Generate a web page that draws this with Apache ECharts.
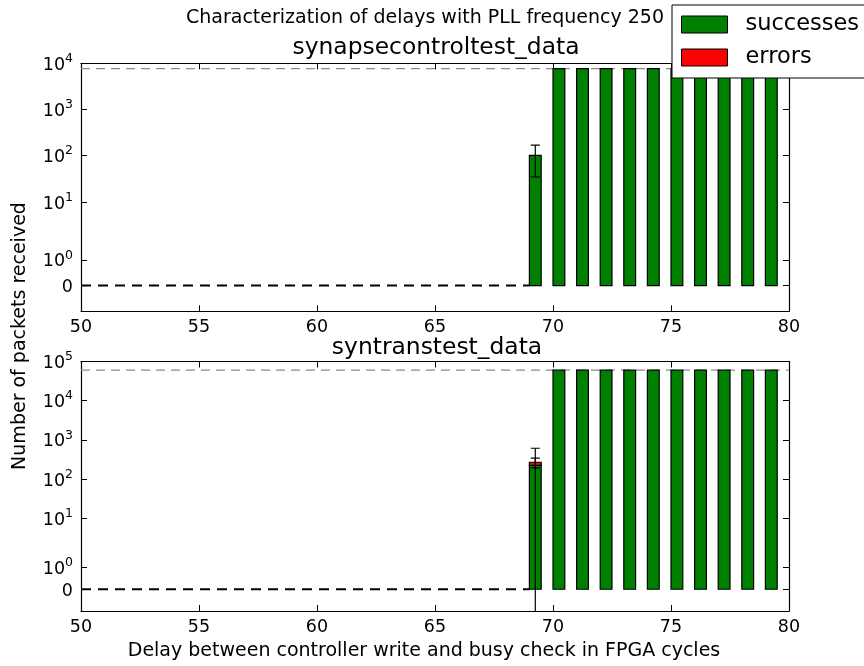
<!DOCTYPE html>
<html>
<head>
<meta charset="utf-8">
<title>Characterization of delays with PLL frequency 250</title>
<script src="https://cdn.jsdelivr.net/npm/echarts@6/dist/echarts.min.js"></script>
<style>
  html, body { margin: 0; padding: 0; background: #fff; }
  #chart { width: 864px; height: 666px; }
</style>
</head>
<body>
<div id="chart"></div>
<script>
// Delay settings (FPGA cycles) that received packets
const delays = [69, 70, 71, 72, 73, 74, 75, 76, 77, 78, 79];

// synapsecontroltest_data
const synapseSuccesses   = [102, 7700, 7700, 7700, 7700, 7700, 7700, 7700, 7700, 7700, 7700];
const synapseSuccessErr  = [67, 0, 0, 0, 0, 0, 0, 0, 0, 0, 0];
const synapseErrors      = [0, 0, 0, 0, 0, 0, 0, 0, 0, 0, 0];
const synapseErrorErr    = [0, 0, 0, 0, 0, 0, 0, 0, 0, 0, 0];
const synapseExpected    = 7700;

// syntranstest_data
const syntransSuccesses  = [225, 60000, 60000, 60000, 60000, 60000, 60000, 60000, 60000, 60000, 60000];
const syntransSuccessErr = [387, 0, 0, 0, 0, 0, 0, 0, 0, 0, 0];
const syntransErrors     = [44, 0, 0, 0, 0, 0, 0, 0, 0, 0, 0];
const syntransErrorErr   = [75, 0, 0, 0, 0, 0, 0, 0, 0, 0, 0];
const syntransExpected   = 60000;

// Delays with no packets at all (drawn as a dashed line at zero)
const zeroLineX = [50, 69];

// Axis ranges and tick values
const xRange = [50, 80];
const xTickStep = 5;
const synapseYRange  = [-1, 10000];
const syntransYRange = [-1, 100000];
const synapseYTicks  = [0, 1, 10, 100, 1000, 10000];
const syntransYTicks = [0, 1, 10, 100, 1000, 10000, 100000];

const BAR_WIDTH = 0.5;

// Symmetric log transform (linthresh 2, linscale 1, base 10)
const LINTHRESH = 2;
const LINSCALE_ADJ = 1 / (1 - 1 / 10);
function symlog(v) {
  const a = Math.abs(v);
  if (a <= LINTHRESH) return v * LINSCALE_ADJ;
  return Math.sign(v) * LINTHRESH * (LINSCALE_ADJ + Math.log10(a / LINTHRESH));
}

const FONT = 'DejaVu Sans';
const TICK_FONT = 17.5;
const LABEL_FONT = 19;

function tickLabel(v) {
  if (v === 0) return '{b|0}';
  const e = Math.round(Math.log10(v));
  return '{b|10}{s|' + e + '}';
}

function yAxisPair(gridIndex, range, ticks) {
  const tv = ticks.map(symlog);
  const common = {
    type: 'value',
    gridIndex: gridIndex,
    min: symlog(range[0]),
    max: symlog(range[1]),
    splitLine: { show: false },
    axisLine: { show: true, onZero: false, lineStyle: { color: '#000', width: 1.2 } },
    axisTick: { show: true, inside: true, length: 6, customValues: tv, lineStyle: { color: '#000', width: 1 } }
  };
  return [
    Object.assign({}, common, {
      position: 'left',
      axisLabel: {
        show: true,
        customValues: tv,
        margin: 8,
        color: '#000',
        formatter: function (val) {
          let best = 0, bestD = Infinity;
          tv.forEach(function (t, i) { const d = Math.abs(t - val); if (d < bestD) { bestD = d; best = i; } });
          return tickLabel(ticks[best]);
        },
        rich: {
          b: { fontFamily: FONT, fontSize: TICK_FONT, color: '#000', lineHeight: 22, verticalAlign: 'bottom' },
          s: { fontFamily: FONT, fontSize: 12.5, color: '#000', lineHeight: 13, verticalAlign: 'top' }
        }
      }
    }),
    Object.assign({}, common, { position: 'right', axisLabel: { show: false } })
  ];
}

function xAxisPair(gridIndex) {
  const common = {
    type: 'value',
    gridIndex: gridIndex,
    min: xRange[0],
    max: xRange[1],
    interval: xTickStep,
    splitLine: { show: false },
    axisLine: { show: true, onZero: false, lineStyle: { color: '#000', width: 1.2 } },
    axisTick: { show: true, inside: true, length: 6, lineStyle: { color: '#000', width: 1 } }
  };
  return [
    Object.assign({}, common, {
      position: 'bottom',
      axisLabel: { show: true, margin: 7, fontFamily: FONT, fontSize: TICK_FONT, color: '#000' }
    }),
    Object.assign({}, common, { position: 'top', axisLabel: { show: false } })
  ];
}

// Stacked bar segments [x, bottom, top] in transformed units
function barSegments(successes, errors, which) {
  return delays.map(function (d, i) {
    const s = successes[i], e = errors[i];
    if (which === 'successes') return [d, symlog(0), symlog(s)];
    return [d, symlog(s), symlog(s + e)];
  }).filter(function (p) { return p[2] > p[1]; });
}

// Error bars [xCenter, low, high]
function errorSegments(values, errs, bottoms) {
  const out = [];
  delays.forEach(function (d, i) {
    if (!errs[i]) return;
    const base = bottoms ? bottoms[i] : 0;
    const c = base + values[i];
    out.push([d + BAR_WIDTH / 2, symlog(c - errs[i]), symlog(c + errs[i])]);
  });
  return out;
}

function renderBar(params, api) {
  const x = api.value(0), y0 = api.value(1), y1 = api.value(2);
  const p0 = api.coord([x, y0]);
  const p1 = api.coord([x + BAR_WIDTH, y1]);
  return {
    type: 'rect',
    shape: { x: p0[0], y: p1[1], width: p1[0] - p0[0], height: p0[1] - p1[1] },
    style: { fill: api.visual('color'), stroke: '#000', lineWidth: 1.2 }
  };
}

function renderErr(params, api) {
  const x = api.value(0);
  const lo = api.coord([x, api.value(1)]);
  const hi = api.coord([x, api.value(2)]);
  const cap = 4.5;
  const st = { stroke: '#000', lineWidth: 1.2 };
  return {
    type: 'group',
    children: [
      { type: 'line', shape: { x1: lo[0], y1: lo[1], x2: hi[0], y2: hi[1] }, style: st },
      { type: 'line', shape: { x1: hi[0] - cap, y1: hi[1], x2: hi[0] + cap, y2: hi[1] }, style: st },
      { type: 'line', shape: { x1: lo[0] - cap, y1: lo[1], x2: lo[0] + cap, y2: lo[1] }, style: st }
    ]
  };
}

function panelSeries(k, successes, sErr, errors, eErr, expected) {
  const xi = k * 2, yi = k * 2;
  return [
    {
      type: 'line', name: 'no packets', xAxisIndex: xi, yAxisIndex: yi,
      data: zeroLineX.map(function (x) { return [x, symlog(0)]; }),
      symbol: 'none', silent: true, z: 1,
      lineStyle: { color: '#000', width: 2, type: [10, 7] }
    },
    {
      type: 'line', name: 'expected', xAxisIndex: xi, yAxisIndex: yi,
      data: xRange.map(function (x) { return [x, symlog(expected)]; }),
      symbol: 'none', silent: true, z: 1,
      lineStyle: { color: '#8c8c8c', width: 1.3, type: [9, 6] }
    },
    {
      type: 'custom', name: 'successes', xAxisIndex: xi, yAxisIndex: yi,
      renderItem: renderBar, clip: true, z: 3,
      itemStyle: { color: '#008000' },
      encode: { x: 0, y: [1, 2] },
      data: barSegments(successes, errors, 'successes')
    },
    {
      type: 'custom', name: 'errors', xAxisIndex: xi, yAxisIndex: yi,
      renderItem: renderBar, clip: true, z: 3,
      itemStyle: { color: '#ff0000' },
      encode: { x: 0, y: [1, 2] },
      data: barSegments(successes, errors, 'errors')
    },
    {
      type: 'custom', name: 'successes error', xAxisIndex: xi, yAxisIndex: yi,
      renderItem: renderErr, clip: true, z: 4, silent: true,
      encode: { x: 0, y: [1, 2] },
      data: errorSegments(successes, sErr, null)
    },
    {
      type: 'custom', name: 'errors error', xAxisIndex: xi, yAxisIndex: yi,
      renderItem: renderErr, clip: true, z: 4, silent: true,
      encode: { x: 0, y: [1, 2] },
      data: errorSegments(errors, eErr, successes)
    }
  ];
}

const chart = echarts.init(document.getElementById('chart'), null, { renderer: 'canvas' });

const option = {
  animation: false,
  backgroundColor: '#fff',
  textStyle: { fontFamily: FONT },
  title: [
    { text: 'Characterization of delays with PLL frequency 250', left: 420, top: 4, textAlign: 'center',
      textStyle: { fontFamily: FONT, fontSize: 19, fontWeight: 'normal', color: '#000' } },
    { text: 'synapsecontroltest_data', left: 431, top: 31, textAlign: 'center',
      textStyle: { fontFamily: FONT, fontSize: 23.4, fontWeight: 'normal', color: '#000' } },
    { text: 'syntranstest_data', left: 432, top: 331, textAlign: 'center',
      textStyle: { fontFamily: FONT, fontSize: 23.4, fontWeight: 'normal', color: '#000' } }
  ],
  legend: {
    orient: 'vertical',
    left: 672, top: 5,
    padding: [8, 12, 9, 9],
    itemGap: 10,
    itemWidth: 46, itemHeight: 17,
    backgroundColor: '#fff',
    borderColor: '#000', borderWidth: 1, borderRadius: 0,
    selectedMode: false,
    textStyle: { fontFamily: FONT, fontSize: 22.5, color: '#000', padding: [0, 0, 0, 13] },
    data: [
      { name: 'successes', icon: 'rect', itemStyle: { color: '#008000', borderColor: '#000', borderWidth: 1 } },
      { name: 'errors', icon: 'rect', itemStyle: { color: '#ff0000', borderColor: '#000', borderWidth: 1 } }
    ],
    z: 10
  },
  grid: [
    { left: 81, top: 63.3, width: 708, height: 248 },
    { left: 81, top: 361.5, width: 708, height: 249.5 }
  ],
  xAxis: [].concat(xAxisPair(0), xAxisPair(1)),
  yAxis: [].concat(yAxisPair(0, synapseYRange, synapseYTicks), yAxisPair(1, syntransYRange, syntransYTicks)),
  series: [].concat(
    panelSeries(0, synapseSuccesses, synapseSuccessErr, synapseErrors, synapseErrorErr, synapseExpected),
    panelSeries(1, syntransSuccesses, syntransSuccessErr, syntransErrors, syntransErrorErr, syntransExpected)
  ),
  graphic: [
    { type: 'text', x: 20, y: 336, rotation: Math.PI / 2,
      style: { text: 'Number of packets received', fontFamily: FONT, fontSize: LABEL_FONT, fill: '#000',
               align: 'center', verticalAlign: 'middle' } },
    { type: 'text', x: 424, y: 651,
      style: { text: 'Delay between controller write and busy check in FPGA cycles', fontFamily: FONT,
               fontSize: LABEL_FONT, fill: '#000', align: 'center', verticalAlign: 'middle' } }
  ]
};

chart.setOption(option);
</script>
</body>
</html>
